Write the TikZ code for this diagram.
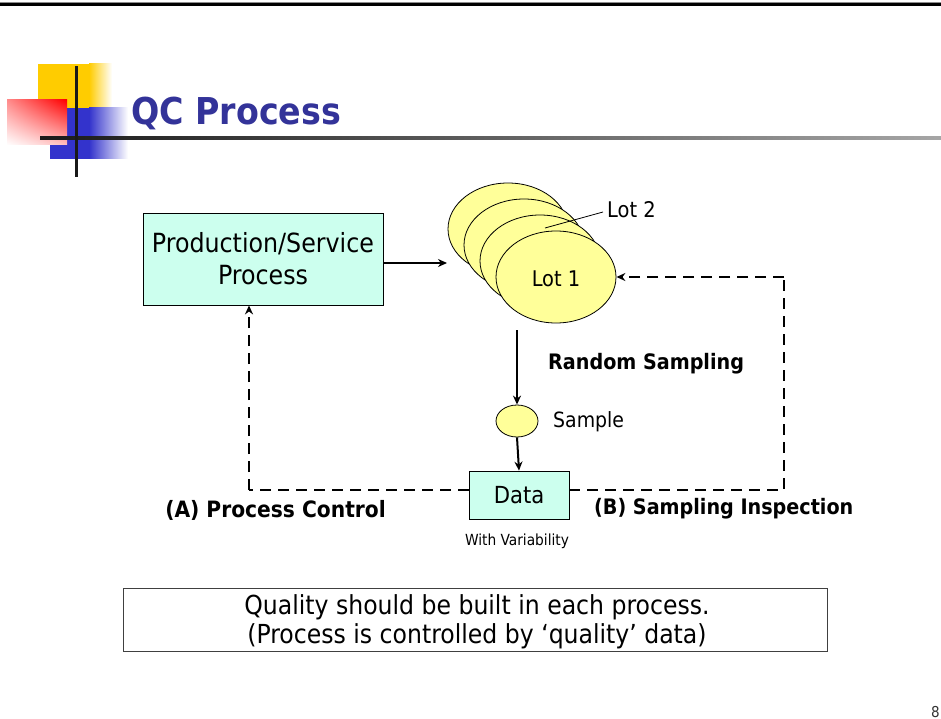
\documentclass[tikz,border=0pt]{standalone}
\usepackage{fontspec}
\setmainfont{DejaVu Sans Condensed}
\usetikzlibrary{arrows.meta,shapes.geometric,shadings}
\definecolor{titleblue}{RGB}{51,51,153}
\definecolor{boxcyan}{RGB}{204,255,238}
\definecolor{lotyellow}{RGB}{255,255,153}
\definecolor{decoyellow}{RGB}{255,204,0}
\definecolor{decoblue}{RGB}{51,51,204}
\tikzset{
  procbox/.style={draw=black, fill=boxcyan, line width=0.8pt, inner sep=0pt},
  lotell/.style={draw=black, fill=lotyellow, ellipse, line width=0.8pt, inner sep=0pt},
  arr/.style={line width=2pt, -{Stealth[length=9pt,width=8pt]}},
  darr/.style={line width=2.4pt, dash pattern=on 11pt off 7pt, -{Stealth[length=9pt,width=8pt]}},
  dline/.style={line width=2.4pt, dash pattern=on 11pt off 7pt},
  lbl/.style={font=\fontsize{21}{24}\selectfont, inner sep=0pt},
  blbl/.style={font=\fontsize{21.3}{24}\selectfont\bfseries, inner sep=0pt},
}
\begin{document}
\begin{tikzpicture}[x=1pt,y=-1pt]
\useasboundingbox (0,0) rectangle (941,719);
\fill[white] (0,0) rectangle (941,719);
% top rule
\fill[black!45] (0,2) rectangle (941,3.2);
\fill[black] (0,3.2) rectangle (941,6);
% decoration
\fill[decoyellow] (38,64) rectangle (89,108);
\shade[left color=decoyellow, right color=white] (89,64) rectangle (112,108);
\fill[decoblue] (50,108) rectangle (89,159);
\shade[left color=decoblue, right color=white] (89,108) rectangle (128,159);
\shade[upper left=red!45, upper right=red, lower left=white, lower right=red!25] (7,100) rectangle (67,145);
\shade[left color=black!90, right color=black!35] (40,136.5) rectangle (941,140);
\fill[black!90] (74.5,66) rectangle (78,177);
\node[anchor=base west, inner sep=0pt, text=titleblue, font=\fontsize{37}{42}\selectfont\bfseries] (title) at (131,125) {QC Process};
% production box
\node[procbox, minimum width=240pt, minimum height=92pt, align=center, font=\fontsize{26.4}{32}\selectfont] (prod) at (263,259) {Production/Service\\Process};
% lots
\node[lotell, minimum width=120pt, minimum height=92pt] (lot4) at (508,229) {};
\node[lotell, minimum width=120pt, minimum height=92pt] (lot3) at (524,245) {};
\node[lotell, minimum width=120pt, minimum height=92pt] (lot2) at (540,261) {};
\node[lotell, minimum width=120pt, minimum height=92pt] (lot1) at (556,277) {};
\node[lbl, font=\fontsize{21.6}{24}\selectfont] at (556,279) {Lot 1};
\node[lbl, anchor=west, font=\fontsize{21.6}{24}\selectfont] (lot2lbl) at (607,210) {Lot 2};
\draw[line width=0.8pt] (545,228) -- (603,212);
\draw[arr] (prod.east |- 0,263) -- (447,263);
% sample
\node[lotell, minimum width=42pt, minimum height=32pt] (sample) at (517,421) {};
\node[lbl, anchor=west] (samplelbl) at (553,422) {Sample};
\draw[arr] (517,330) -- (sample.north);
\node[blbl, anchor=west] (rs) at (548,364) {Random Sampling};
% data
\node[procbox, minimum width=100pt, minimum height=48pt, font=\fontsize{23.5}{26}\selectfont] (data) at (519,495) {Data};
\draw[arr] (sample.south) -- (data.north);
\node[inner sep=0pt, font=\fontsize{15.3}{17}\selectfont] (var) at (517,541) {With Variability};
% feedback loops
\coordinate (aL) at (249,490);
\coordinate (bR) at (784,490);
\coordinate (bT) at (784,277);
\draw[dline] (data.west |- 0,490) -- (aL);
\draw[darr] (aL) -- (prod.south -| aL);
\draw[dline] (data.east |- 0,490) -- (bR) -- (bT);
\draw[darr] (bT) -- (lot1.east);
\node[blbl, anchor=east, font=\fontsize{22.5}{24}\selectfont\bfseries] (pc) at (386,510) {(A) Process Control};
\node[blbl, anchor=west] (si) at (594,509) {(B) Sampling Inspection};
% bottom box
\node[draw=black!75, line width=0.8pt, minimum width=704pt, minimum height=63pt, inner sep=0pt] (note) at (475,619.5) {};
\node[align=center, font=\fontsize{26.2}{29}\selectfont, inner sep=0pt] (notetxt) at (477,622) {Quality should be built in each process.\\(Process is controlled by ‘quality’ data)};
\node[anchor=base east, inner sep=0pt, font=\fontsize{15}{18}\selectfont, text=black!80] (pg) at (940,717) {8};
\end{tikzpicture}
\end{document}
